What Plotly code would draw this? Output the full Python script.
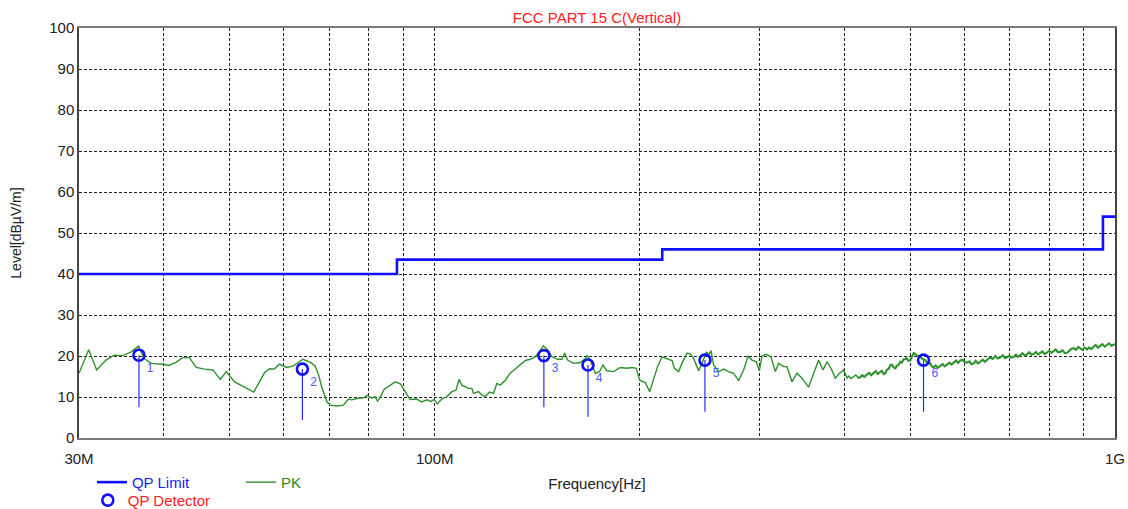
import plotly.graph_objects as go

# ---------------- data ----------------
limit_freq = [30, 88, 216, 960, 1000]          # MHz
limit_level = [40.0, 43.5, 46.0, 54.0, 54.0]   # dBuV/m

pk_freq = [
    30.0, 31.0, 31.85, 32.87, 33.8, 34.8, 35.8, 36.7, 37.4, 38.3, 39.8, 40.7, 41.7, 42.6, 43.6,
    44.6, 45.9, 47.2, 48.4, 49.4, 50.8, 52.5, 54.2, 56.2, 57.2, 58.1, 59.1, 60.6, 62.0, 64.0,
    65.6, 66.7, 67.5, 68.2, 69.4, 70.2, 71.8, 73.4, 74.7, 75.5, 77.2, 78.6, 79.6, 80.8, 81.7,
    82.4, 83.1, 84.3, 86.0, 87.5, 89.0, 90.5, 92.0, 94.1, 95.7, 97.4, 98.7, 99.8, 100.9, 102.4,
    104.2, 106.0, 107.5, 108.6, 109.6, 110.9, 112.1, 113.4, 114.0, 116.0, 117.3, 118.6, 120.4, 122.0, 123.4,
    124.8, 127.0, 129.1, 131.3, 133.6, 135.9, 138.2, 140.5, 142.9, 144.5, 147.0, 148.7, 151.6, 153.8, 155.2,
    156.8, 160.0, 163.7, 166.5, 167.4, 169.3, 172.2, 174.7, 176.7, 179.1, 183.2, 187.4, 191.7, 195.0, 197.8,
    200.1, 204.0, 207.0, 209.8, 212.6, 215.8, 219.6, 223.3, 225.0, 228.3, 230.9, 234.9, 237.5, 240.2, 244.3,
    247.1, 250.8, 252.7, 254.8, 257.0, 261.4, 265.9, 270.4, 275.0, 279.8, 284.5, 288.8, 292.7, 297.0, 300.0,
    302.8, 307.2, 312.1, 316.7, 320.3, 325.7, 329.5, 335.1, 340.8, 346.6, 354.5, 358.6, 362.6, 366.7, 372.2,
    377.3, 382.4, 388.0, 393.7, 399.1, 403.8, 406, 409, 412.9, 416, 419, 422.3, 425, 428, 432.1,
    435, 438, 441.8, 445, 448, 451.9, 454, 457, 459.7, 462, 465, 467.5, 470, 473, 475.5,
    478, 481, 483.6, 486, 489, 491.9, 494, 497, 500.3, 503, 505.9, 508, 511, 514.6, 517,
    520, 523.3, 526, 529, 532.3, 535, 538, 541.3, 545, 549, 553.8, 558, 562, 566.4, 571,
    575, 579.2, 584, 588, 592.5, 597, 601, 606.1, 611, 615, 619.8, 624, 629, 634.0, 639,
    644, 648.7, 655, 661, 667.1, 672, 678.5, 684, 689, 694.1, 699, 704, 709.8, 715, 720,
    726.0, 731, 737, 742.7, 748, 754, 759.5, 765, 771, 776.4, 782, 788, 794.5, 800, 806,
    812.5, 818, 825, 831.2, 837, 844, 850.4, 856, 863, 869.6, 876, 883, 889.6, 896, 903,
    909.9, 916, 923, 930.5, 937, 944, 951.9, 958, 966, 973.6, 980, 988, 995.7, 1000,
]
pk_level = [
    15.8, 21.5, 16.6, 19.0, 20.2, 20.1, 21.0, 22.4, 19.4, 18.2, 18.0, 17.7, 18.5, 19.6, 19.6,
    17.2, 16.8, 16.6, 14.3, 16.2, 13.7, 12.4, 11.2, 15.9, 16.9, 16.8, 18.0, 17.2, 17.6, 19.2,
    18.5, 17.6, 15.4, 12.5, 8.9, 8.0, 7.8, 8.0, 9.5, 9.3, 9.7, 9.8, 10.4, 9.7, 10.1,
    9.0, 9.8, 11.9, 12.9, 13.7, 13.2, 11.3, 9.4, 9.5, 8.8, 9.3, 8.9, 9.4, 8.3, 9.5,
    10.1, 11.3, 11.7, 14.3, 12.9, 12.5, 12.1, 12.1, 10.9, 11.3, 10.5, 10.1, 11.2, 10.9, 13.3,
    12.9, 14.1, 15.8, 16.8, 17.8, 18.9, 19.2, 19.8, 21.3, 22.5, 21.3, 19.8, 19.2, 19.2, 20.7,
    19.0, 18.2, 18.4, 19.4, 20.1, 19.0, 15.8, 16.2, 17.8, 16.4, 16.2, 17.2, 17.0, 17.2, 17.0,
    14.1, 13.5, 11.3, 14.1, 17.4, 19.8, 19.4, 18.9, 17.0, 16.2, 18.2, 20.7, 20.5, 19.4, 16.4,
    18.2, 21.0, 20.2, 21.3, 17.8, 16.2, 16.8, 16.2, 15.8, 14.0, 16.6, 20.0, 19.0, 18.6, 16.4,
    20.0, 20.4, 19.8, 16.2, 18.2, 17.4, 17.4, 13.7, 15.8, 14.6, 12.4, 14.6, 17.0, 19.0, 16.6,
    18.6, 17.0, 14.6, 15.8, 16.6, 14.6, 15.1, 14.5, 15.1, 15.4, 14.7, 14.8, 15.3, 14.9, 15.5,
    15.9, 15.3, 15.8, 16.3, 15.6, 16.0, 16.4, 15.6, 15.8, 16.6, 16.9, 17.8, 17.9, 17.2, 17.0,
    17.6, 17.9, 18.6, 18.4, 19.2, 19.2, 19.5, 18.8, 19.0, 19.7, 20.7, 20.6, 20.1, 20.0, 19.9,
    19.4, 19.2, 19.0, 18.5, 18.2, 18.2, 17.5, 17.2, 17.7, 17.1, 17.6, 18.0, 17.5, 18.0, 18.4,
    17.9, 18.4, 18.9, 18.3, 18.9, 19.1, 18.5, 18.4, 18.7, 18.0, 18.2, 18.8, 18.2, 18.6, 19.1,
    18.6, 19.0, 19.7, 19.3, 20.0, 19.4, 19.7, 20.2, 19.5, 19.7, 20.1, 19.6, 19.8, 20.3, 19.8,
    20.2, 20.7, 20.1, 20.4, 20.9, 20.3, 20.5, 21.0, 20.4, 20.7, 21.1, 20.5, 20.8, 21.3, 20.8,
    21.2, 21.6, 20.9, 21.0, 21.4, 20.7, 20.8, 21.3, 21.8, 21.9, 21.5, 22.2, 21.9, 21.5, 22.1,
    21.6, 22.1, 21.7, 22.3, 22.7, 22.0, 22.4, 22.9, 22.3, 22.7, 23.1, 22.5, 22.7, 22.9,
]

qp_freq = [36.75, 63.9, 144.7, 168.0, 249.6, 523.0]
qp_level = [20.2, 16.8, 20.1, 17.8, 19.0, 19.0]
qp_stem_low = [7.5, 4.4, 7.5, 5.2, 6.4, 6.4]
qp_labels = ["1", "2", "3", "4", "5", "6"]

grid_freq = [30, 40, 50, 60, 70, 80, 90, 100, 200, 300, 400, 500, 600, 700, 800, 900, 1000]
grid_text = ["30M", "", "", "", "", "", "", "100M", "", "", "", "", "", "", "", "", "1G"]
y_ticks = [0, 10, 20, 30, 40, 50, 60, 70, 80, 90, 100]

FONT = "Liberation Sans, Arial, sans-serif"
BLUE = "#1010ff"
GREEN = "#2f922f"
DENSE_FROM = 420  # MHz, where the PK sweep becomes a dense noisy band

fig = go.Figure()

# stems below QP markers
stem_x, stem_y = [], []
for f, hi, lo in zip(qp_freq, qp_level, qp_stem_low):
    stem_x += [f, f, None]
    stem_y += [hi, lo, None]
fig.add_trace(go.Scatter(x=stem_x, y=stem_y, mode="lines",
                         line=dict(color="#2a2aff", width=1.2),
                         showlegend=False, hoverinfo="skip"))

fig.add_trace(go.Scatter(
    x=limit_freq, y=limit_level, mode="lines", line_shape="hv",
    line=dict(color=BLUE, width=2.6),
    name="<span style='color:#2020ff'>QP Limit</span>", legend="legend"))

lo_idx = [i for i, f in enumerate(pk_freq) if f <= DENSE_FROM + 3]
hi_idx = [i for i, f in enumerate(pk_freq) if f >= DENSE_FROM - 3]
fig.add_trace(go.Scatter(
    x=[pk_freq[i] for i in lo_idx], y=[pk_level[i] for i in lo_idx], mode="lines",
    line=dict(color=GREEN, width=1.4), legendgroup="pk",
    name="<span style='color:#1f8a1f'>PK</span>", legend="legend"))
fig.add_trace(go.Scatter(
    x=[pk_freq[i] for i in hi_idx], y=[pk_level[i] for i in hi_idx], mode="lines",
    line=dict(color=GREEN, width=2.1), legendgroup="pk", showlegend=False))

fig.add_trace(go.Scatter(
    x=qp_freq, y=qp_level, mode="markers+text",
    marker=dict(symbol="circle-open", size=11, color=BLUE, line=dict(width=2.6, color=BLUE)),
    text=qp_labels, textposition="bottom right",
    textfont=dict(color="#4a5cff", size=12, family=FONT),
    name="<span style='color:#ff2020'>QP Detector</span>", legend="legend2"))

fig.update_layout(
    width=1128, height=509,
    margin=dict(l=79, r=13, t=28, b=71, autoexpand=False),
    paper_bgcolor="white", plot_bgcolor="white",
    font=dict(family=FONT, size=15, color="#222"),
    title=dict(text="FCC PART 15 C(Vertical)", x=0.5, xref="paper", xanchor="center",
               y=1 - 18 / 509, yanchor="middle",
               font=dict(color="#ff2020", size=15, family=FONT)),
    legend=dict(orientation="h", x=0.0125, xanchor="left", y=-0.068, yanchor="top",
                font=dict(size=15, family=FONT), entrywidth=104, bgcolor="rgba(0,0,0,0)",
                itemwidth=30, tracegroupgap=0),
    legend2=dict(orientation="h", x=0.0085, xanchor="left", y=-0.112, yanchor="top",
                 font=dict(size=15, family=FONT), bgcolor="rgba(0,0,0,0)"),
)

fig.update_xaxes(
    type="log", range=[1.4771213, 3.0], automargin=False,
    tickvals=grid_freq, ticktext=grid_text, ticks="", ticklabelstandoff=6,
    showgrid=True, gridcolor="#222", gridwidth=1, griddash="3px,2px",
    showline=True, linecolor="#7a7a7a", linewidth=2, mirror=True,
    zeroline=False, tickfont=dict(size=15, color="#222"),
    title=dict(text="Frequency[Hz]", standoff=12, font=dict(size=15, color="#222")),
)
fig.update_yaxes(
    range=[0, 100], tickvals=y_ticks, ticks="", automargin=False,
    showgrid=True, gridcolor="#222", gridwidth=1, griddash="3px,2px",
    showline=True, linecolor="#444", linewidth=1.5, mirror=True,
    zeroline=False, tickfont=dict(size=15, color="#222"),
    title=dict(text="Level[dBµV/m]", standoff=24, font=dict(size=14, color="#222")),
)

fig.write_html("out.html", config={"displayModeBar": False},
               post_script="document.body.style.margin='0';")
